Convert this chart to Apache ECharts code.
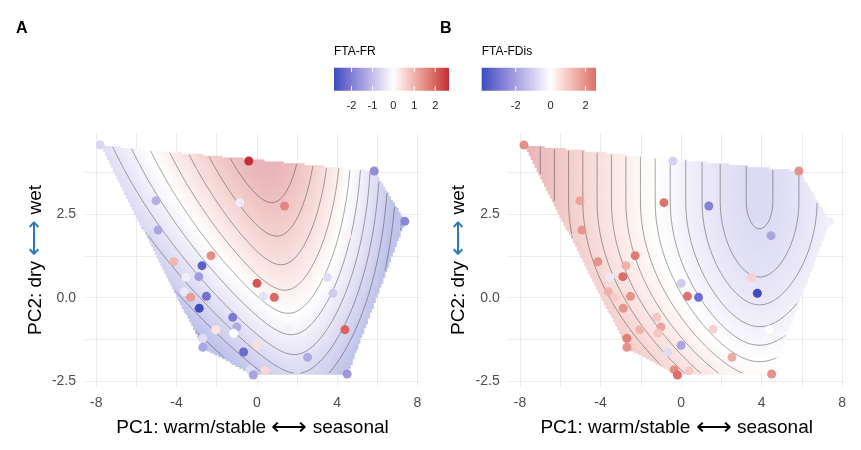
<!DOCTYPE html>
<html><head><meta charset="utf-8">
<script src="https://cdn.jsdelivr.net/npm/echarts@6/dist/echarts.min.js"></script>
<style>html,body{margin:0;padding:0;background:#fff}#c{width:861px;height:450px}</style>
</head><body><div id="c"></div>
<script>
// ---------------- data ----------------
const pc1 = [-7.80,-0.40,5.85,-0.85,1.38,-5.02,7.37,-4.92,4.47,-2.28,-4.13,-2.73,-3.53,-2.89,0.01,3.51,3.79,0.32,0.87,-3.61,-3.30,-2.51,-2.87,-1.20,-1.00,-2.04,-1.15,1.59,-2.69,-2.69,0.00,-0.66,2.53,0.40,-0.34,-0.18,4.50,4.39];
const pc2 = [4.58,4.10,3.80,2.85,2.75,2.91,2.29,2.03,1.86,1.26,1.08,0.96,0.61,0.63,0.43,0.61,0.13,0.04,0.01,0.18,0.01,0.04,-0.32,-0.59,-0.88,-0.96,-1.07,-0.95,-1.22,-1.49,-1.43,-1.63,-1.79,-2.19,-2.16,-2.32,-2.29,-0.96];
const ftaFR = [-0.6,2.66,-1.75,-0.3,1.55,-1.2,-1.85,-1.35,0.15,1.5,0.95,-2.45,-0.25,-1.5,2.15,-0.5,-0.75,-0.45,1.95,-0.35,1.3,-2.2,-2.84,-2.05,-1.3,0.35,0.0,-0.2,-0.5,-1.35,0.4,-2.3,-1.3,0.5,-0.55,-1.4,-1.6,2.0];
const ftaFDis = [2.05,-0.95,2.0,2.5,-2.65,1.65,-0.3,1.9,-1.9,2.35,2.0,1.4,-0.45,2.6,-1.05,0.8,-3.95,2.5,-3.15,1.4,0.9,1.95,1.9,1.0,1.65,1.35,1.0,0.85,2.3,2.0,-1.9,-0.75,1.5,0.95,2.05,2.55,2.0,0.05];
const xTickLabels = [-8,-4,0,4,8];
const xMinorTicks = [-6,-2,2,6];
const yTickLabels = [-2.5,0,2.5];
const yMinorTicks = [-1.25,1.25,3.75];
const frLegendTicks = [-2,-1,0,1,2];
const fdisLegendTicks = [-2,0,2];
const panelTitles = ['A','B'];
const legendTitles = ['FTA-FR','FTA-FDis'];

// fitted-surface estimates
// value = scale * (along(y) + sign * flank(u) - offset), u = x - (axis0 + axis1*y)
const surfAxisA   = [1.45, -0.246];
const surfAlongA  = [0.412, 0.8517, -0.0541];
const surfLeftA   = [0.68, 1.2];          // k, s  : k*(sqrt(u^2+s^2)-s)
const surfRightA  = [0.0728, 0.528, 1.2]; // q, k, s : q*u^2 + k*(sqrt(u^2+s^2)-s)
const surfShapeA  = [1, -1, 0];           // scale, sign, offset
const contourStepA = 0.6;
const surfAxisB   = [3.9, 0];
const surfAlongB  = [1.7125, -1.2866, 0.2216];
const surfLeftB   = [1.45, 2];
const surfRightB  = [0, 1.45, 2];
const surfShapeB  = [0.45, 1, 5];
const contourStepB = 0.45;

// ---------------- styles ----------------
const PAL = ['#3B4CC0','#7775D1','#A7A1E1','#D4CFF0','#FFFFFF','#F6C8C3','#E6928A','#D35A53','#BE1E2D'];
const SURF_ALPHA = 0.33;
const FONT = '"Liberation Sans", Arial, sans-serif';

function hex2rgb(h){return [parseInt(h.substr(1,2),16),parseInt(h.substr(3,2),16),parseInt(h.substr(5,2),16)];}
function rgb2hex(c){return '#'+c.map(v=>Math.round(Math.max(0,Math.min(255,v))).toString(16).padStart(2,'0')).join('');}
const PAL_SURF = PAL.map(h=>rgb2hex(hex2rgb(h).map(v=>255-(255-v)*SURF_ALPHA)));
function palColor(v, M){
  let t=(v/M+1)/2; t=Math.max(0,Math.min(1,t));
  const p=t*(PAL.length-1); const i=Math.min(PAL.length-2,Math.floor(p)); const f=p-i;
  const a=hex2rgb(PAL[i]), b=hex2rgb(PAL[i+1]);
  return rgb2hex(a.map((v,k)=>v+(b[k]-v)*f));
}

// ---------------- helpers ----------------
function makeSurface(axis, along, left, right, shape){
  const vtx = along[2]>0 ? -along[1]/(2*along[2]) : Infinity;
  return (x,y)=>{
    const yy=Math.min(y,vtx);
    const F=along[0]+along[1]*yy+along[2]*yy*yy;
    const u=x-(axis[0]+axis[1]*y);
    const g = u<0 ? left[0]*(Math.sqrt(u*u+left[1]*left[1])-left[1])
                  : right[0]*u*u + right[1]*(Math.sqrt(u*u+right[2]*right[2])-right[2]);
    return shape[0]*(F+shape[1]*g-shape[2]);
  };
}
function convexHull(xs, ys){
  const pts=xs.map((x,i)=>[x,ys[i]]).sort((a,b)=>a[0]-b[0]||a[1]-b[1]);
  const cross=(o,a,b)=>(a[0]-o[0])*(b[1]-o[1])-(a[1]-o[1])*(b[0]-o[0]);
  const lo=[],up=[];
  for(const p of pts){while(lo.length>=2&&cross(lo[lo.length-2],lo[lo.length-1],p)<=0)lo.pop();lo.push(p);}
  for(let i=pts.length-1;i>=0;i--){const p=pts[i];while(up.length>=2&&cross(up[up.length-2],up[up.length-1],p)<=0)up.pop();up.push(p);}
  up.pop();lo.pop();return lo.concat(up);
}
function inPoly(x,y,poly){
  let ins=false;
  for(let i=0,j=poly.length-1;i<poly.length;j=i++){
    const xi=poly[i][0],yi=poly[i][1],xj=poly[j][0],yj=poly[j][1];
    if(((yi>y)!==(yj>y))&&(x<(xj-xi)*(y-yi)/(yj-yi)+xi))ins=!ins;
  }
  return ins;
}
function contour(gx,gy,Z,V,level){
  const segs=[];
  const P=(i1,j1,i2,j2)=>{const z1=Z[j1][i1],z2=Z[j2][i2];const t=(level-z1)/(z2-z1);
    return [gx[i1]+(gx[i2]-gx[i1])*t, gy[j1]+(gy[j2]-gy[j1])*t];};
  for(let j=0;j<gy.length-1;j++)for(let i=0;i<gx.length-1;i++){
    if(!(V[j][i]&&V[j][i+1]&&V[j+1][i]&&V[j+1][i+1]))continue;
    const a=Z[j][i]>level,b=Z[j][i+1]>level,c=Z[j+1][i+1]>level,d=Z[j+1][i]>level;
    const e0=a!==b?{k:'h'+i+','+j,p:P(i,j,i+1,j)}:null;
    const e1=b!==c?{k:'v'+(i+1)+','+j,p:P(i+1,j,i+1,j+1)}:null;
    const e2=d!==c?{k:'h'+i+','+(j+1),p:P(i,j+1,i+1,j+1)}:null;
    const e3=a!==d?{k:'v'+i+','+j,p:P(i,j,i,j+1)}:null;
    const cnt=[e0,e1,e2,e3].filter(Boolean);
    if(cnt.length===2){segs.push([cnt[0],cnt[1]]);}
    else if(cnt.length===4){
      const center=(Z[j][i]+Z[j][i+1]+Z[j+1][i]+Z[j+1][i+1])/4>level;
      if(center===a){segs.push([e0,e1]);segs.push([e2,e3]);}
      else{segs.push([e3,e0]);segs.push([e1,e2]);}
    }
  }
  const adj=new Map();
  segs.forEach((s,idx)=>{for(const e of s){if(!adj.has(e.k))adj.set(e.k,[]);adj.get(e.k).push(idx);}});
  const used=new Array(segs.length).fill(false);const lines=[];
  for(let s0=0;s0<segs.length;s0++){
    if(used[s0])continue;used[s0]=true;
    const pts=[segs[s0][0].p,segs[s0][1].p];
    let key=segs[s0][1].k;
    while(true){const nx=(adj.get(key)||[]).find(q=>!used[q]);if(nx===undefined)break;used[nx]=true;
      const s=segs[nx];if(s[0].k===key){pts.push(s[1].p);key=s[1].k;}else{pts.push(s[0].p);key=s[0].k;}}
    key=segs[s0][0].k;
    while(true){const nx=(adj.get(key)||[]).find(q=>!used[q]);if(nx===undefined)break;used[nx]=true;
      const s=segs[nx];if(s[0].k===key){pts.unshift(s[1].p);key=s[1].k;}else{pts.unshift(s[0].p);key=s[0].k;}}
    lines.push(pts);
  }
  return lines;
}

// ---------------- derived geometry ----------------
const xmin=Math.min(...pc1),xmax=Math.max(...pc1),ymin=Math.min(...pc2),ymax=Math.max(...pc2);
const xr=xmax-xmin,yr=ymax-ymin;
const axX=[xmin-0.05*xr,xmax+0.05*xr], axY=[ymin-0.05*yr,ymax+0.05*yr];
const hull=convexHull(pc1,pc2);
const NX=160, NY=120;
const gx=Array.from({length:NX},(_,i)=>xmin+i*xr/(NX-1));
const gy=Array.from({length:NY},(_,j)=>ymin+j*yr/(NY-1));
const dx=xr/(NX-1),dy=yr/(NY-1);
const V=gy.map(y=>gx.map(x=>inPoly(x,y,hull)));

function buildPanel(f, step){
  const Z=gy.map(y=>gx.map(x=>f(x,y)));
  const surf=[];let zlo=Infinity,zhi=-Infinity;
  for(let j=0;j<NY;j++)for(let i=0;i<NX;i++)if(V[j][i]){const z=Z[j][i];surf.push([gx[i],gy[j],z]);zlo=Math.min(zlo,z);zhi=Math.max(zhi,z);}
  const levels=[];for(let k=Math.ceil(zlo/step);k*step<zhi;k++){const l=k*step;if(l>zlo&&l<zhi)levels.push(l);}
  let lines=[];levels.forEach(l=>{lines=lines.concat(contour(gx,gy,Z,V,l));});
  return {surf,lines};
}
const panels=[
  buildPanel(makeSurface(surfAxisA,surfAlongA,surfLeftA,surfRightA,surfShapeA),contourStepA),
  buildPanel(makeSurface(surfAxisB,surfAlongB,surfLeftB,surfRightB,surfShapeB),contourStepB)];
const values=[ftaFR,ftaFDis];

// ---------------- layout ----------------
const grids=[{left:85,top:133.5,width:335,height:253},{left:508.7,top:133.5,width:336,height:253}];
const titleStyle={color:'#000',fontSize:19,fontFamily:FONT};

const option={animation:false,backgroundColor:'#fff',
  grid:grids,
  xAxis:[0,1].map(k=>({gridIndex:k,type:'value',min:axX[0],max:axX[1],
    axisLine:{show:false},axisTick:{show:false,customValues:xTickLabels.concat(xMinorTicks)},
    axisLabel:{customValues:xTickLabels,color:'#4D4D4D',fontSize:14,fontFamily:FONT,margin:10,formatter:v=>String(v)},
    splitLine:{show:true,lineStyle:{color:'#EBEBEB',width:1}},
    name:'PC1: warm/stable {a|⟷} seasonal',nameLocation:'middle',nameGap:29,
    nameTextStyle:Object.assign({rich:{a:{fontSize:25,color:'#000',fontFamily:FONT}}},titleStyle)})),
  yAxis:[0,1].map(k=>({gridIndex:k,type:'value',min:axY[0],max:axY[1],
    axisLine:{show:false},axisTick:{show:false,customValues:yTickLabels.concat(yMinorTicks)},
    axisLabel:{customValues:yTickLabels,color:'#4D4D4D',fontSize:14,fontFamily:FONT,margin:9,formatter:v=>v.toFixed(1)},
    splitLine:{show:true,lineStyle:{color:'#EBEBEB',width:1}},
    name:'PC2: dry {a|⟷} wet',nameLocation:'middle',nameGap:37,
    nameTextStyle:Object.assign({rich:{a:{color:'#2B7BBA',fontSize:25,fontFamily:FONT}}},titleStyle)})),
  visualMap:[],series:[],graphic:[]
};

[0,1].forEach(k=>{
  const P=panels[k];const vals=values[k];
  const M=Math.max(Math.abs(Math.min(...vals)),Math.abs(Math.max(...vals)));
  const base=option.series.length;
  option.series.push({type:'custom',xAxisIndex:k,yAxisIndex:k,data:P.surf,encode:{x:0,y:1},silent:true,progressive:0,z:1,clip:true,
    renderItem:(params,api)=>{const x=api.value(0),y=api.value(1);
      const p0=api.coord([x-dx/2,y+dy/2]),p1=api.coord([x+dx/2,y-dy/2]);
      return {type:'rect',shape:{x:p0[0],y:p0[1],width:p1[0]-p0[0]+0.6,height:p1[1]-p0[1]+0.6},style:{fill:api.visual('color')}};}});
  const lines=P.lines;
  option.series.push({type:'custom',xAxisIndex:k,yAxisIndex:k,data:lines.map((l,i)=>[l[0][0],l[0][1],i]),encode:{x:0,y:1},silent:true,progressive:0,z:2,
    renderItem:(params,api)=>{const l=lines[api.value(2)];
      return {type:'polyline',shape:{points:l.map(p=>api.coord(p))},style:{stroke:'rgba(60,60,60,0.6)',lineWidth:0.8,fill:null}};}});
  option.series.push({type:'scatter',xAxisIndex:k,yAxisIndex:k,z:3,symbolSize:9,
    data:pc1.map((x,i)=>[x,pc2[i],vals[i]]),itemStyle:{opacity:1}});
  option.visualMap.push({type:'continuous',show:false,seriesIndex:base,dimension:2,min:-M,max:M,inRange:{color:PAL_SURF}});
  option.visualMap.push({type:'continuous',show:false,seriesIndex:base+2,dimension:2,min:-M,max:M,inRange:{color:PAL}});

  // legend (colour bar)
  const lo=Math.min(...vals),hi=Math.max(...vals);
  const bx=[334,481.7][k],bw=[115,114.3][k],by=67.7,bh=23;
  const stops=[];for(let s=0;s<=40;s++){const v=lo+(hi-lo)*s/40;stops.push({offset:s/40,color:palColor(v,M)});}
  option.graphic.push({type:'text',left:bx,top:46,style:{text:legendTitles[k],fontSize:12,fontFamily:FONT,fill:'#000'}});
  option.graphic.push({type:'rect',shape:{x:bx,y:by,width:bw,height:bh},style:{fill:{type:'linear',x:0,y:0,x2:1,y2:0,colorStops:stops}}});
  const ticks=[frLegendTicks,fdisLegendTicks][k];
  ticks.forEach(t=>{const tx=bx+(t-lo)/(hi-lo)*bw;
    option.graphic.push({type:'line',shape:{x1:tx,y1:by,x2:tx,y2:by+4.5},style:{stroke:'#fff',lineWidth:1}});
    option.graphic.push({type:'line',shape:{x1:tx,y1:by+bh-4.5,x2:tx,y2:by+bh},style:{stroke:'#fff',lineWidth:1}});
    option.graphic.push({type:'text',x:tx,y:106,style:{text:String(t),fontSize:11,fontFamily:FONT,fill:'#1a1a1a',align:'center',verticalAlign:'middle'}});
  });
  option.graphic.push({type:'text',left:[16,440][k],top:21,style:{text:panelTitles[k],fontSize:16,fontWeight:'bold',fontFamily:FONT,fill:'#000'}});
});

const chart=echarts.init(document.getElementById('c'));
chart.setOption(option);
</script></body></html>
